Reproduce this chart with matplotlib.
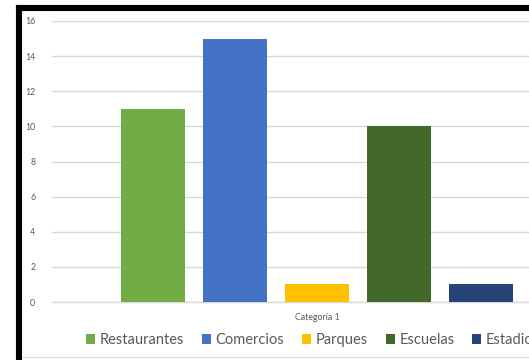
import matplotlib
matplotlib.use("Agg")
import matplotlib.pyplot as plt
from matplotlib.patches import Patch
from matplotlib.lines import Line2D

series = ["Restaurantes", "Comercios", "Parques", "Escuelas", "Estadios"]
values = [11, 15, 1, 10, 1]
colors = ["#70AD47", "#4472C4", "#FFC000", "#43682B", "#264478"]
category = "Categoría 1"
yticks = [0, 2, 4, 6, 8, 10, 12, 14, 16]

W, H = 529, 360
fig = plt.figure(figsize=(W / 100, H / 100), dpi=100)
plt.rcParams['font.family'] = ['Lato', 'DejaVu Sans']

left, right, top, bottom = 52, 580, 21, 302
ax = fig.add_axes([left / W, 1 - bottom / H, (right - left) / W, (bottom - top) / H])
ax.set_ylim(0, 16)
ax.set_xlim(-1.232, 5.207)
x = list(range(len(series)))
ax.bar(x, values, width=0.78, color=colors, zorder=3)
ax.set_yticks(yticks)
ax.set_yticklabels([str(t) for t in yticks], fontsize=6.3, color="#595959")
ax.set_xticks([2])
ax.set_xticklabels([category], fontsize=6.3, color="#595959")
ax.tick_params(axis="both", length=0)
ax.tick_params(axis="y", pad=12)
ax.tick_params(axis="x", pad=8)
ax.grid(axis="y", color="#D9D9D9", linewidth=1, zorder=0)
for s in ["top", "right", "left"]:
    ax.spines[s].set_visible(False)
ax.spines["bottom"].set_color("#D9D9D9")
ax.spines["bottom"].set_linewidth(1)

handles = [Patch(facecolor=c, edgecolor="none") for c in colors]
fig.legend(handles, series, loc="center left", bbox_to_anchor=(86 / W, 1 - 340 / H),
           ncol=5, frameon=False, fontsize=10.5, handlelength=0.62, handleheight=0.62,
           handletextpad=0.3, columnspacing=1.24, labelcolor="#595959", borderpad=0.0,
           borderaxespad=0.0)

# chart frame
fig.add_artist(Line2D([19 / W, 19 / W], [1 - 7.5 / H, 0], color="black", linewidth=4.4,
                      transform=fig.transFigure, solid_capstyle="projecting"))
fig.add_artist(Line2D([19 / W, 1.01], [1 - 7.5 / H, 1 - 7.5 / H], color="black", linewidth=4.4,
                      transform=fig.transFigure, solid_capstyle="projecting"))
fig.add_artist(Line2D([22 / W, 1.0], [1 - 357 / H, 1 - 357 / H], color="#D9D9D9", linewidth=0.8,
                      transform=fig.transFigure))

fig.savefig("out.png", dpi=100)
